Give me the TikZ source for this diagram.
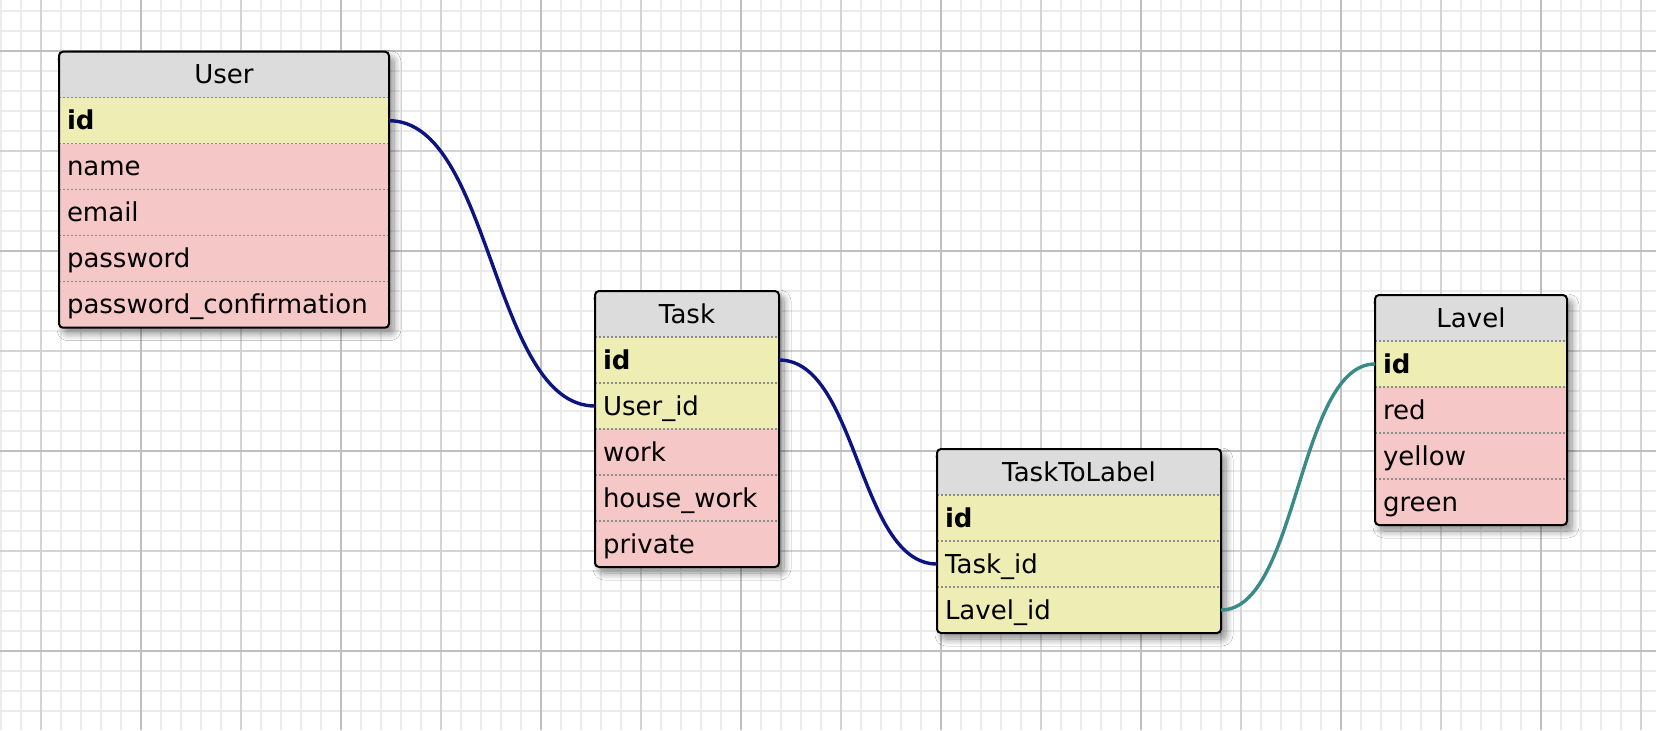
\documentclass[tikz,border=0pt]{standalone}
\usepackage{fontspec}
\setmainfont{DejaVu Sans}
\usetikzlibrary{positioning,shadows.blur}
\definecolor{headgray}{HTML}{DCDCDC}
\definecolor{keyyellow}{HTML}{EEEDB4}
\definecolor{colpink}{HTML}{F6C7C7}
\definecolor{linknavy}{HTML}{0C1480}
\definecolor{linkteal}{HTML}{3A8A8A}
\tikzset{
    grid-minor/.style = {draw=black!8, line width=0.9pt},
    grid-mid/.style = {draw=black!17, line width=0.9pt},
    grid-major/.style = {draw=black!25, line width=0.9pt},
    row/.style = {rectangle, inner xsep=4pt, inner ysep=0pt, outer sep=0pt, minimum height=23pt, text height=9pt, text depth=0pt, align=left, font=\fontsize{13pt}{15pt}\selectfont},
    row-sep/.style = {draw=black!45, line width=0.7pt, dash pattern=on 1pt off 1pt},
    table-frame/.style = {draw=black, line width=1pt, rounded corners=2pt},
    table-shadow/.style = {blur shadow={shadow xshift=2.5pt, shadow yshift=-3pt, shadow blur radius=3.5pt, shadow blur steps=12, shadow opacity=45}},
    link/.style = {line width=1.7pt},
}

% #1 name, #2 top left, #3 width (px), #4 number of rows, #5 title, #6 fields
\newcommand{\dbtable}[6]{
  \pgfmathsetmacro{\tw}{#3/2-8}
  \path (#2) coordinate (#1-nw) ++(#3,#4*46) coordinate (#1-se);
  \path[rounded corners=2pt, table-shadow] (#1-nw) rectangle (#1-se);
  \begin{scope}
    \clip[rounded corners=2pt] (#1-nw) rectangle (#1-se);
    \node[row, fill=headgray, align=center, text width=\tw pt, anchor=north west] (#1-head) at (#1-nw) {#5};
    \foreach \n/\c/\t [remember=\n as \p (initially head)] in {#6} {
      \node[row, fill=\c, text width=\tw pt, below=0pt of #1-\p] (#1-\n) {\t};
      \draw[row-sep] (#1-\n.north west) -- (#1-\n.north east);
    }
  \end{scope}
  \draw[table-frame] (#1-nw) rectangle (#1-se);
}

\begin{document}
\begin{tikzpicture}[x=0.5pt, y=-0.5pt]
\useasboundingbox (0,0) rectangle (1656,730);
\fill[white] (0,0) rectangle (1656,730);

% grid
\foreach \gx in {1.3,21.3,...,1656} \draw[grid-minor] (\gx,0) -- (\gx,730);
\foreach \gy in {10.7,30.7,...,730} \draw[grid-minor] (0,\gy) -- (1656,\gy);
\foreach \gx in {41.3,241.3,...,1656} \draw[grid-mid] (\gx,0) -- (\gx,730);
\foreach \gy in {150.7,350.7,...,730} \draw[grid-mid] (0,\gy) -- (1656,\gy);
\foreach \gx in {141.3,341.3,...,1656} \draw[grid-major] (\gx,0) -- (\gx,730);
\foreach \gy in {50.7,250.7,...,730} \draw[grid-major] (0,\gy) -- (1656,\gy);

% tables
\dbtable{user}{59,51.7}{330}{6}{User}{id/keyyellow/\textbf{id}, name/colpink/name, email/colpink/email, password/colpink/password, confirm/colpink/password\_confirmation}
\dbtable{task}{595,291}{184}{6}{Task}{id/keyyellow/\textbf{id}, userid/keyyellow/User\_id, work/colpink/work, housework/colpink/house\_work, private/colpink/private}
\dbtable{tasktolabel}{937,449}{284}{4}{TaskToLabel}{id/keyyellow/\textbf{id}, taskid/keyyellow/Task\_id, lavelid/keyyellow/Lavel\_id}
\dbtable{lavel}{1375,295}{192}{5}{Lavel}{id/keyyellow/\textbf{id}, red/colpink/red, yellow/colpink/yellow, green/colpink/green}

% relations
\draw[link, draw=linknavy] (user-id.east) .. controls +(103,0) and +(-103,0) .. (task-userid.west);
\draw[link, draw=linknavy] (task-id.east) .. controls +(79,0) and +(-79,0) .. (tasktolabel-taskid.west);
\draw[link, draw=linkteal] (tasktolabel-lavelid.east) .. controls +(77,0) and +(-77,0) .. (lavel-id.west);
\end{tikzpicture}
\end{document}
